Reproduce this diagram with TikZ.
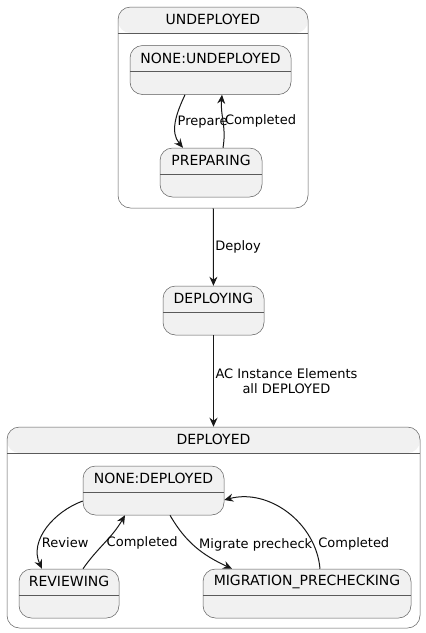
\documentclass[tikz,border=0pt]{standalone}
\usepackage{fontspec}
\setmainfont{DejaVu Sans}
\usetikzlibrary{arrows.meta}
\definecolor{stfill}{HTML}{F1F1F1}
\definecolor{stline}{HTML}{181818}
\definecolor{stbox}{HTML}{5A5A5A}
\begin{document}
\begin{tikzpicture}
  [x=1pt,y=-1pt,
   state/.style={draw=stbox,line width=0.5pt,fill=stfill,rounded corners=12.5pt,inner sep=0pt,
     path picture={\draw[stbox,line width=0.4pt] ([yshift=-26pt]path picture bounding box.north west)
       -- ([yshift=-26pt]path picture bounding box.north east);}},
   comp/.style={draw=stbox,line width=0.5pt,fill=white,rounded corners=12.5pt,inner sep=0pt,
     path picture={\fill[stfill] (path picture bounding box.north west)
       rectangle ([yshift=-26pt]path picture bounding box.north east);
       \draw[stbox,line width=0.4pt] ([yshift=-26pt]path picture bounding box.north west)
       -- ([yshift=-26pt]path picture bounding box.north east);}},
   title/.style={font=\fontsize{14}{16}\selectfont,inner sep=0pt},
   lbl/.style={font=\fontsize{13}{15}\selectfont,inner sep=1.5pt,align=center},
   tr/.style={draw=stline,line width=1pt,-{Stealth[length=9pt,width=8pt,inset=3pt]}}]
  \useasboundingbox (0,0) rectangle (426,633);

  \node[comp,minimum width=190pt,minimum height=201pt] (und) at (213,107.5) {};
  \node[comp,minimum width=413pt,minimum height=201pt] (dep) at (213.5,527.5) {};
  \node[title] (und-t) at ([yshift=-13pt]und.north) {UNDEPLOYED};
  \node[title] (dep-t) at ([yshift=-13pt]dep.north) {DEPLOYED};

  \foreach \n/\x/\y/\w/\lbltext in {nu/210.5/70/161/NONE:UNDEPLOYED,
      prep/211/172.5/102/PREPARING,
      dpl/213.5/310.5/101/DEPLOYING,
      nd/153.5/490.5/141/NONE:DEPLOYED,
      rev/69/593.5/100/REVIEWING,
      mig/307/593.5/208/MIGRATION\_PRECHECKING}
  {
    \node[state,minimum width=\w pt,minimum height=49pt] (\n) at (\x,\y) {};
    \node[title] (\n-t) at ([yshift=-13pt]\n.north) {\lbltext};
  }

  \draw[tr] ([xshift=-25.5pt]nu.south) to[out=-115,in=130]
    node[lbl,anchor=west] {Prepare} ([xshift=-28pt]prep.north);
  \draw[tr] ([xshift=12pt]prep.north) to[out=80,in=-95]
    node[lbl,anchor=west] {Completed} ([xshift=11.5pt]nu.south);
  \draw[tr] (und) -- node[lbl,anchor=west] {Deploy} (dpl);
  \draw[tr] (dpl) -- node[lbl,anchor=west] {AC Instance Elements\\all DEPLOYED} (dep);
  \draw[tr] ([yshift=-10.5pt]nd.west) to[out=200,in=115]
    node[lbl,anchor=west,pos=0.68] {Review} ([xshift=-27pt]rev.north);
  \draw[tr] ([xshift=14pt]rev.north) to[out=55,in=-120]
    node[lbl,anchor=west] {Completed} ([xshift=-28.5pt]nd.south);
  \draw[tr] ([xshift=16.5pt]nd.south) to[out=-60,in=155]
    node[lbl,anchor=west,pos=0.45,xshift=4pt] {Migrate precheck} ([xshift=-75pt]mig.north);
  \draw[tr] ([xshift=13pt]mig.north) to[out=95,in=15]
    node[lbl,anchor=west,pos=0.19,xshift=3pt] {Completed} ([yshift=-9.5pt]nd.east);
\end{tikzpicture}
\end{document}
